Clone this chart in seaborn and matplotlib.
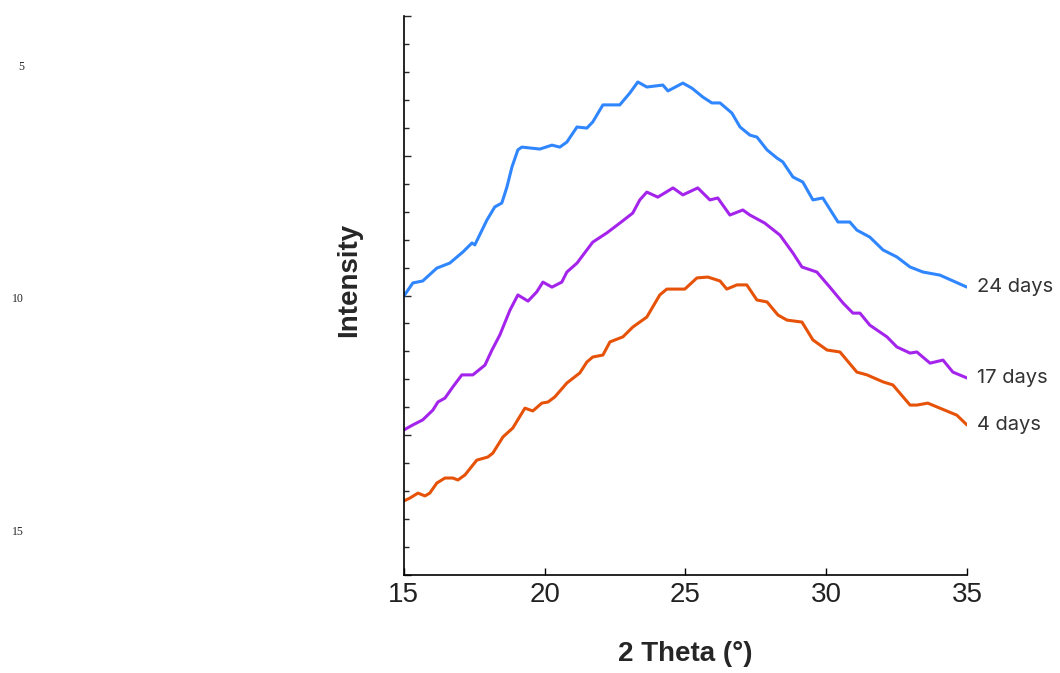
import matplotlib
matplotlib.use("Agg")
import matplotlib.pyplot as plt
import seaborn as sns
from matplotlib.ticker import MultipleLocator

# 2 theta (deg) and intensity (arbitrary units)
theta_24 = [15.00, 15.32, 15.67, 16.17, 16.63, 17.10, 17.42, 17.52, 17.95, 18.23,
            18.48, 18.66, 18.84, 19.05, 19.19, 19.83, 20.26, 20.54, 20.79, 21.15,
            21.50, 21.71, 22.07, 22.67, 23.03, 23.31, 23.63, 24.20, 24.38, 24.91,
            25.23, 25.62, 25.94, 26.23, 26.65, 26.94, 27.29, 27.54, 27.90, 28.25,
            28.46, 28.82, 29.17, 29.53, 29.88, 30.42, 30.84, 31.09, 31.55, 32.02,
            32.51, 32.98, 33.44, 34.04, 35.00]
int_24 = [9.98, 10.45, 10.52, 10.98, 11.16, 11.56, 11.88, 11.81, 12.70, 13.17,
          13.31, 13.88, 14.60, 15.21, 15.31, 15.24, 15.38, 15.31, 15.49, 16.03,
          15.99, 16.21, 16.82, 16.82, 17.25, 17.64, 17.46, 17.53, 17.32, 17.60,
          17.42, 17.10, 16.89, 16.89, 16.53, 16.03, 15.74, 15.67, 15.21, 14.92,
          14.78, 14.24, 14.06, 13.42, 13.49, 12.63, 12.63, 12.34, 12.09, 11.63,
          11.38, 11.02, 10.84, 10.73, 10.30]

theta_17 = [15.00, 15.32, 15.67, 16.03, 16.21, 16.46, 16.74, 17.06, 17.45, 17.88,
            18.13, 18.41, 18.77, 19.05, 19.41, 19.72, 19.94, 20.26, 20.61, 20.79,
            21.15, 21.50, 21.71, 22.21, 22.67, 23.13, 23.38, 23.63, 24.02, 24.56,
            24.91, 25.44, 25.87, 26.15, 26.58, 27.04, 27.29, 27.82, 28.36, 28.82,
            29.14, 29.67, 30.13, 30.60, 30.95, 31.20, 31.55, 32.16, 32.51, 32.98,
            33.22, 33.69, 34.15, 34.50, 35.00]
int_17 = [5.19, 5.37, 5.55, 5.90, 6.19, 6.33, 6.73, 7.16, 7.16, 7.51,
          8.05, 8.59, 9.48, 10.02, 9.80, 10.13, 10.48, 10.30, 10.48, 10.84,
          11.16, 11.63, 11.91, 12.24, 12.59, 12.95, 13.42, 13.70, 13.52, 13.85,
          13.60, 13.85, 13.42, 13.49, 12.88, 13.06, 12.88, 12.59, 12.16, 11.52,
          11.02, 10.84, 10.30, 9.73, 9.37, 9.37, 8.94, 8.52, 8.16, 7.94,
          7.98, 7.58, 7.69, 7.26, 7.05]

theta_4 = [15.00, 15.21, 15.50, 15.75, 15.92, 16.17, 16.46, 16.74, 16.92, 17.17,
           17.59, 17.98, 18.16, 18.52, 18.87, 19.30, 19.58, 19.90, 20.12, 20.36,
           20.79, 21.25, 21.50, 21.71, 22.07, 22.32, 22.78, 23.13, 23.63, 24.09,
           24.34, 24.98, 25.41, 25.80, 26.23, 26.47, 26.83, 27.18, 27.54, 27.90,
           28.29, 28.61, 29.14, 29.53, 30.03, 30.49, 31.09, 31.45, 32.02, 32.37,
           32.98, 33.22, 33.61, 34.04, 34.64, 35.00]
int_4 = [2.65, 2.75, 2.93, 2.83, 2.93, 3.29, 3.47, 3.47, 3.40, 3.58,
         4.11, 4.22, 4.36, 4.94, 5.26, 5.97, 5.87, 6.15, 6.19, 6.37,
         6.87, 7.23, 7.62, 7.80, 7.87, 8.34, 8.52, 8.87, 9.23, 10.02,
         10.23, 10.23, 10.63, 10.66, 10.52, 10.23, 10.38, 10.38, 9.84, 9.77,
         9.30, 9.12, 9.05, 8.41, 8.05, 7.98, 7.26, 7.16, 6.91, 6.80,
         6.08, 6.08, 6.15, 5.97, 5.72, 5.37]

series = [
    (theta_24, int_24, "#2f86ff", "24 days"),
    (theta_17, int_17, "#a424ec", "17 days"),
    (theta_4, int_4, "#e65208", "4 days"),
]

sns.set_style("ticks")
plt.rcParams['font.family'] = ['Liberation Sans', 'DejaVu Sans']

fig = plt.figure(figsize=(10.6, 6.73), dpi=100)
ax = fig.add_axes([0.381, 0.1456, 0.5312, 0.8306])

for xs, ys, col, name in series:
    sns.lineplot(x=xs, y=ys, color=col, linewidth=2.2, ax=ax)
    ax.text(xs[-1] + 0.36, ys[-1], name, ha='left', va='center', fontsize=14.5,
            color='#333333', family=['Inter', 'DejaVu Sans'], clip_on=False)

ax.set_xlim(15, 35)
ax.set_ylim(0, 20)
ax.set_xticks([15, 20, 25, 30, 35])
ax.yaxis.set_major_locator(MultipleLocator(5))
ax.yaxis.set_minor_locator(MultipleLocator(1))
ax.set_yticklabels([])
ax.tick_params(axis='x', direction='in', length=5, width=1, labelsize=20, pad=5,
               colors='black', labelcolor='#222222')
ax.tick_params(axis='y', which='major', direction='in', length=5, width=1)
ax.tick_params(axis='y', which='minor', direction='in', length=3.5, width=1)

sns.despine(ax=ax)
for s in ['left', 'bottom']:
    ax.spines[s].set_linewidth(1.2)
    ax.spines[s].set_color('black')

ax.set_xlabel('2 Theta (°)', fontsize=20, fontweight='bold')
ax.set_ylabel('Intensity', fontsize=20, fontweight='bold')
ax.xaxis.set_label_coords(0.5, -0.118)
ax.yaxis.set_label_coords(-0.075, 0.528)

# stray labels on the far left of the reference
for lab, ypx in [('5', 67), ('10', 299), ('15', 532)]:
    fig.text(24 / 1060, 1 - ypx / 673, lab, ha='right', va='center', fontsize=8.5,
             family=['Liberation Serif', 'DejaVu Serif'])

fig.savefig('out.png', dpi=100)
